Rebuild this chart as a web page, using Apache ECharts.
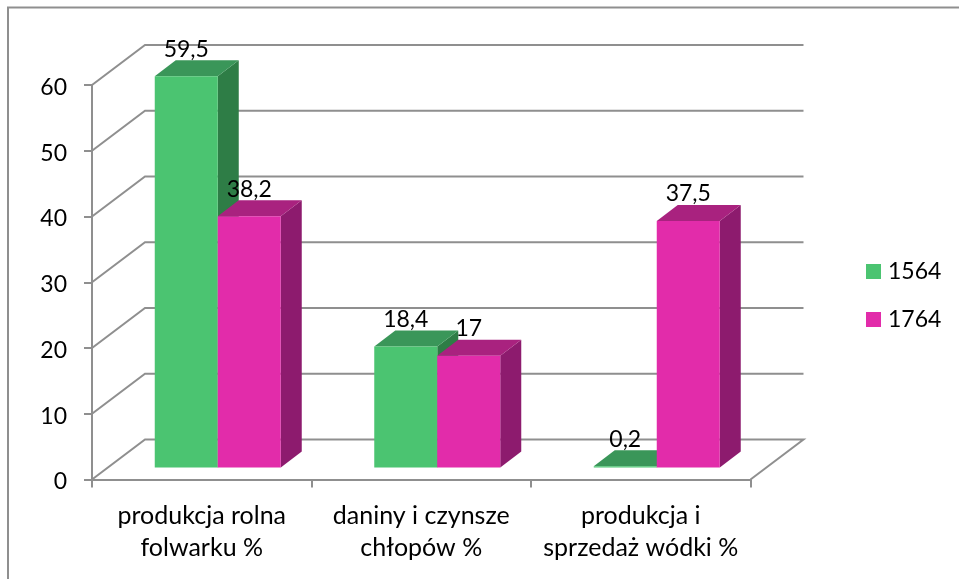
<!DOCTYPE html>
<html>
<head>
<meta charset="utf-8">
<style>
  html, body { margin: 0; padding: 0; background: #fff; }
  #chart { width: 959px; height: 579px; }
</style>
</head>
<body>
<div id="chart"></div>
<script src="https://cdn.jsdelivr.net/npm/echarts@6/dist/echarts.min.js"></script>
<script>
var categories = ['produkcja rolna\nfolwarku %', 'daniny i czynsze\nchłopów %', 'produkcja i\nsprzedaż wódki %']
var yTicks = [0, 10, 20, 30, 40, 50, 60]
var values1564 = [59.5, 18.4, 0.2]
var values1764 = [38.2, 17, 37.5]

var FONT = 'Lato'
var GRAY = '#8f8f8f'
// 3d look: how far the back wall and the bars are pushed, in px
var WALL_DX = 53
var WALL_DY = -40
var BAR_SHIFT_X = 16
var BAR_SHIFT_Y = -12
var BAR_DX = 21
var BAR_DY = -16
var BAR_RATIO = 63 / 219.5

var chart = echarts.init(document.getElementById('chart'))

function renderWall (params, api) {
  var cs = params.coordSys
  var y = api.coord([0, api.value(0)])[1]
  var left = cs.x
  var right = cs.x + cs.width
  var points = [
    [left, y],
    [left + WALL_DX, y + WALL_DY],
    [right + WALL_DX, y + WALL_DY]
  ]
  if (api.value(0) === 0) {
    points.push([right, y])
  }
  return {
    type: 'polyline',
    shape: { points: points },
    style: { stroke: GRAY, lineWidth: 2, fill: null }
  }
}

function barRender (side, colors) {
  return function (params, api) {
    var i = api.value(0)
    var v = api.value(1)
    var w = api.size([1, 0])[0] * BAR_RATIO
    var top = api.coord([i, v])
    var base = api.coord([i, 0])
    var x0 = top[0] + BAR_SHIFT_X + (side < 0 ? -w : 0)
    var x1 = x0 + w
    var y0 = base[1] + BAR_SHIFT_Y
    var y1 = top[1] + BAR_SHIFT_Y
    return {
      type: 'group',
      children: [
        {
          type: 'polygon',
          shape: { points: [[x1, y0], [x1 + BAR_DX, y0 + BAR_DY], [x1 + BAR_DX, y1 + BAR_DY], [x1, y1]] },
          style: { fill: colors.side }
        },
        {
          type: 'polygon',
          shape: { points: [[x0, y1], [x0 + BAR_DX, y1 + BAR_DY], [x1 + BAR_DX, y1 + BAR_DY], [x1, y1]] },
          style: { fill: colors.top }
        },
        {
          type: 'rect',
          shape: { x: x0, y: y1, width: w, height: y0 - y1 },
          style: { fill: colors.front }
        },
        {
          type: 'text',
          z2: 100,
          style: {
            x: x0 + w / 2,
            y: y1 - 27,
            text: String(v).replace('.', ','),
            fill: '#000',
            font: '23px ' + FONT,
            align: 'center',
            verticalAlign: 'middle'
          }
        }
      ]
    }
  }
}

function barData (values) {
  return values.map(function (v, i) { return [i, v] })
}

var GREEN = { front: '#4bc471', top: '#3a9659', side: '#2e7d46' }
var MAGENTA = { front: '#e22caa', top: '#a9227f', side: '#8d1b6e' }

chart.setOption({
  animation: false,
  backgroundColor: '#fff',
  graphic: [
    {
      type: 'polyline',
      silent: true,
      shape: { points: [[8, 579], [8, 7.5], [959, 7.5]] },
      style: { stroke: GRAY, lineWidth: 2, fill: null }
    }
  ],
  grid: { left: 92, top: 85, width: 658.5, height: 394.5 },
  legend: {
    orient: 'vertical',
    left: 861,
    top: 255,
    itemWidth: 15,
    itemHeight: 15,
    itemGap: 25,
    icon: 'rect',
    data: ['1564', '1764'],
    selectedMode: false,
    textStyle: { fontFamily: FONT, fontSize: 23, color: '#000', padding: [0, 0, 0, 2] }
  },
  xAxis: {
    type: 'category',
    data: categories,
    axisLine: { lineStyle: { color: GRAY, width: 2 } },
    axisTick: { show: true, length: 8, alignWithLabel: false, lineStyle: { color: GRAY, width: 2 } },
    axisLabel: { fontFamily: FONT, fontSize: 25, color: '#000', lineHeight: 32, margin: 20, interval: 0 }
  },
  yAxis: {
    type: 'value',
    min: 0,
    max: 60,
    interval: 10,
    splitLine: { show: false },
    axisLine: { show: true, lineStyle: { color: GRAY, width: 2 } },
    axisTick: { show: true, length: 8, lineStyle: { color: GRAY, width: 2 } },
    axisLabel: { fontFamily: FONT, fontSize: 23, color: '#000', margin: 25, verticalAlign: 'top', lineHeight: 5 }
  },
  series: [
    {
      type: 'custom',
      silent: true,
      renderItem: renderWall,
      encode: { y: 0 },
      data: yTicks.map(function (t) { return [t] }),
      z: 1
    },
    {
      name: '1564',
      type: 'custom',
      renderItem: barRender(-1, GREEN),
      itemStyle: { color: GREEN.front },
      encode: { x: 0, y: 1 },
      data: barData(values1564),
      z: 2
    },
    {
      name: '1764',
      type: 'custom',
      renderItem: barRender(1, MAGENTA),
      itemStyle: { color: MAGENTA.front },
      encode: { x: 0, y: 1 },
      data: barData(values1764),
      z: 3
    }
  ]
})
</script>
</body>
</html>
